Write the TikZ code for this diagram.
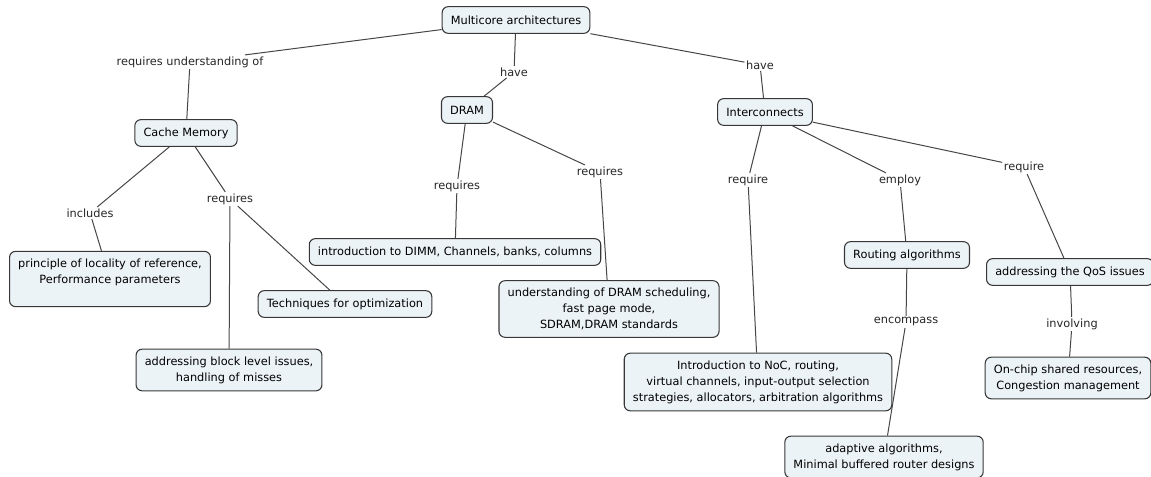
\documentclass[tikz,border=0pt]{standalone}
\usepackage{fontspec}
\setmainfont{DejaVu Sans}
\usetikzlibrary{positioning}

\definecolor{conceptfill}{RGB}{236,243,246}
\definecolor{conceptline}{RGB}{55,55,55}
\definecolor{linkline}{RGB}{70,70,70}

\begin{document}
\begin{tikzpicture}[
    x=0.75pt, y=-0.75pt,
    concept/.style={
      draw=conceptline, fill=conceptfill, rounded corners=4.5pt, line width=0.8pt,
      inner xsep=6.5pt, inner ysep=5.5pt, minimum height=20pt,
      align=center, font=\fontsize{8.5}{12}\selectfont
    },
    linkname/.style={inner sep=1pt, font=\fontsize{8.5}{10}\selectfont, text=black!85},
    link/.style={draw=linkline, line width=0.75pt}
]
\useasboundingbox (0,0) rectangle (1151,477);

% Concepts
\node[concept] (multicore) at (516,20) {Multicore architectures};
\node[concept] (cache) at (186,133) {Cache Memory};
\node[concept] (dram) at (467,110) {DRAM};
\node[concept] (inter) at (765,112) {Interconnects};

\node[concept] (locality) at (110,279) {principle of locality of reference,\\Performance parameters\\\mbox{}};
\node[concept] (techniques) at (345,304) {Techniques for optimization};
\node[concept] (blocklevel) at (229,370) {addressing block level issues,\\handling of misses};

\node[concept] (dimm) at (455,252) {introduction to DIMM, Channels, banks, columns};
\node[concept] (scheduling) at (609,309) {understanding of DRAM scheduling,\\fast page mode,\\SDRAM,DRAM standards};

\node[concept] (noc) at (758,382) {Introduction to NoC, routing,\\virtual channels, input-output selection\\strategies, allocators, arbitration algorithms};
\node[concept] (routing) at (907,255) {Routing algorithms};
\node[concept] (qos) at (1070,272) {addressing the QoS issues};
\node[concept] (onchip) at (1068,378) {On-chip shared resources,\\Congestion management};
\node[concept] (adaptive) at (884,457) {adaptive algorithms,\\Minimal buffered router designs};

% Linking phrases
\node[linkname] (requnder) at (190,62) {requires understanding of};
\node[linkname] (havedram) at (514,72) {have};
\node[linkname] (haveinter) at (760,65) {have};
\node[linkname] (includes) at (90,213) {includes};
\node[linkname] (cachereq) at (230,199) {requires};
\node[linkname] (dimmreq) at (457,186) {requires};
\node[linkname] (schedreq) at (600,172) {requires};
\node[linkname] (nocreq) at (748,180) {require};
\node[linkname] (employ) at (900,180) {employ};
\node[linkname] (qosreq) at (1024,167) {require};
\node[linkname] (encompass) at (906,322) {encompass};
\node[linkname] (involving) at (1072,324) {involving};

% Links
\draw[link] (multicore) -- (requnder);
\draw[link] (requnder) -- (cache);
\draw[link] (multicore) -- (havedram);
\draw[link] (havedram) -- (dram);
\draw[link] (multicore) -- (haveinter);
\draw[link] (haveinter) -- (inter);

\draw[link] (cache) -- (includes);
\draw[link] (includes) -- (locality);
\draw[link] (cache) -- (cachereq);
\draw[link] (cachereq) -- (techniques);
\draw[link] (cachereq) -- (blocklevel);

\draw[link] (dram) -- (dimmreq);
\draw[link] (dimmreq) -- (dimm);
\draw[link] (dram) -- (schedreq);
\draw[link] (schedreq) -- (scheduling);

\draw[link] (inter) -- (nocreq);
\draw[link] (nocreq) -- (noc);
\draw[link] (inter) -- (employ);
\draw[link] (employ) -- (routing);
\draw[link] (inter) -- (qosreq);
\draw[link] (qosreq) -- (qos);

\draw[link] (routing) -- (encompass);
\draw[link] (encompass) -- (adaptive);
\draw[link] (qos) -- (involving);
\draw[link] (involving) -- (onchip);

\end{tikzpicture}
\end{document}
